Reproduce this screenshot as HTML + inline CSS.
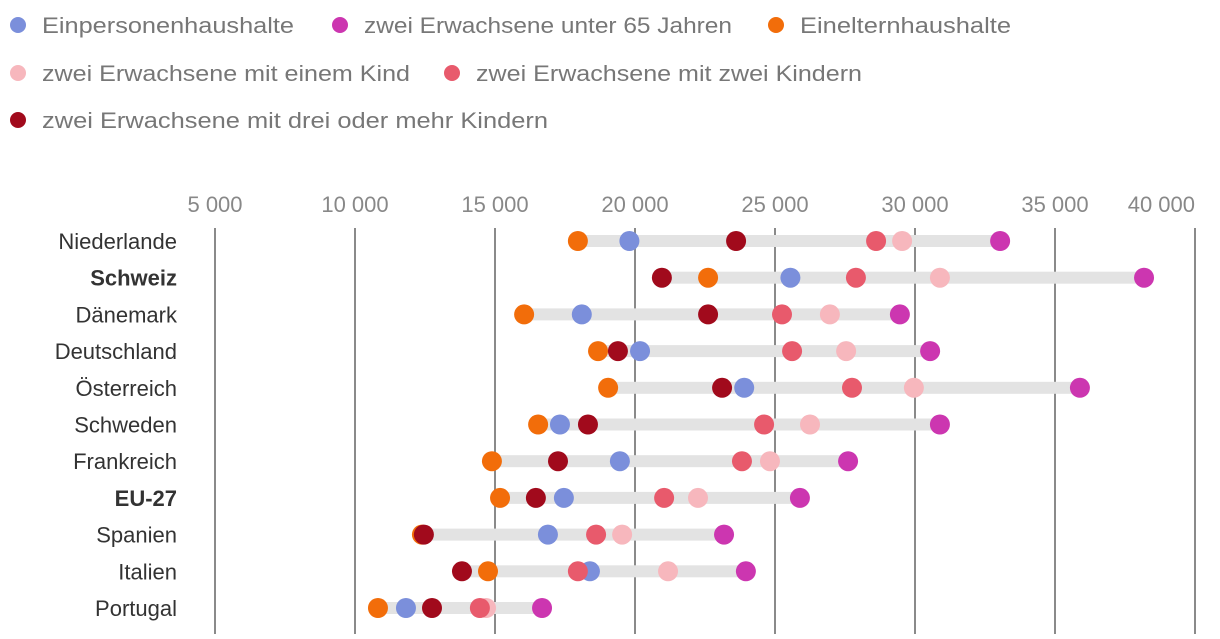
<!DOCTYPE html>
<html><head><meta charset="utf-8"><style>
body{margin:0;background:#fff;font-family:"Liberation Sans",sans-serif;}
svg text{font-family:"Liberation Sans",sans-serif;}
</style></head><body>
<svg id="chart" width="1220" height="634" viewBox="0 0 1220 634" xmlns="http://www.w3.org/2000/svg"></svg>
<script>
const countries=["Niederlande","Schweiz","Dänemark","Deutschland","Österreich","Schweden","Frankreich","EU-27","Spanien","Italien","Portugal"];
const bold=["Schweiz","EU-27"];
const seriesNames=["Einpersonenhaushalte","zwei Erwachsene unter 65 Jahren","Einelternhaushalte","zwei Erwachsene mit einem Kind","zwei Erwachsene mit zwei Kindern","zwei Erwachsene mit drei oder mehr Kindern"];
const seriesColors=["#7b8fdb","#cc36b0","#f26d0a","#f7b7bd","#e85a6c","#a10a1c"];
const single=[19800,25550,18100,20180,23900,17320,19460,17460,16890,18390,11820];
const coupleU65=[33040,38180,29460,30540,35890,30890,27610,25890,23180,23960,16680];
const singleParent=[17960,22610,16040,18680,19040,16540,14890,15180,12390,14750,10820];
const oneChild=[29540,30890,26960,27540,29960,26250,24820,22250,19540,21180,14680];
const twoChildren=[28610,27890,25250,25610,27750,24610,23820,21040,18610,17960,14460];
const threeChildren=[23610,20960,22610,19390,23110,18320,17250,16460,12460,13820,12750];
const ticks=[5000,10000,15000,20000,25000,30000,35000,40000];
const tickLabels=["5 000","10 000","15 000","20 000","25 000","30 000","35 000","40 000"];
const series=[single,coupleU65,singleParent,oneChild,twoChildren,threeChildren];
const NS="http://www.w3.org/2000/svg";
const svg=document.getElementById('chart');
const x=v=>215+(v-5000)*0.028;
const y=i=>241+i*36.7;
function el(t,a,p){const e=document.createElementNS(NS,t);for(const k in a)e.setAttribute(k,a[k]);(p||svg).appendChild(e);return e;}
const legPos=[[18,25],[340,25],[776,25],[18,73],[452,73],[18,120]];
const legLen=[252,368,211,368,386,506];
seriesNames.forEach((n,i)=>{
 const g=el('g',{});
 
 
 el('circle',{cx:legPos[i][0],cy:legPos[i][1],r:8,fill:seriesColors[i]},g);
 const t=el('text',{x:legPos[i][0]+24,y:legPos[i][1]+8,'font-size':22,fill:'#777',textLength:legLen[i],lengthAdjust:'spacingAndGlyphs'},g);t.textContent=n;
});
ticks.forEach((v,i)=>{
 const l=el('line',{x1:x(v),x2:x(v),y1:228,y2:634,stroke:'#8a8a8a','stroke-width':2});
 
 
 const last=i===ticks.length-1;
 const t=el('text',{x:x(v),y:212,'font-size':22,fill:'#888','text-anchor':last?'end':'middle'});
 
 
 t.textContent=tickLabels[i];
});
countries.forEach((c,i)=>{
 const t=el('text',{x:177,y:y(i)+8,'font-size':22,fill:'#333','text-anchor':'end','font-weight':bold.includes(c)?'bold':'normal'});
 
 
 t.textContent=c;
 const vals=series.map(s=>s[i]);
 const mn=Math.min(...vals),mx=Math.max(...vals);
 const r=el('rect',{x:x(mn),y:y(i)-6,width:x(mx)-x(mn),height:12,fill:'#e3e3e3'});
 
 
 series.forEach((s,j)=>{
  const d=el('circle',{cx:x(s[i]),cy:y(i),r:10,fill:seriesColors[j]});
  
  
 });
});
</script>
</body></html>
